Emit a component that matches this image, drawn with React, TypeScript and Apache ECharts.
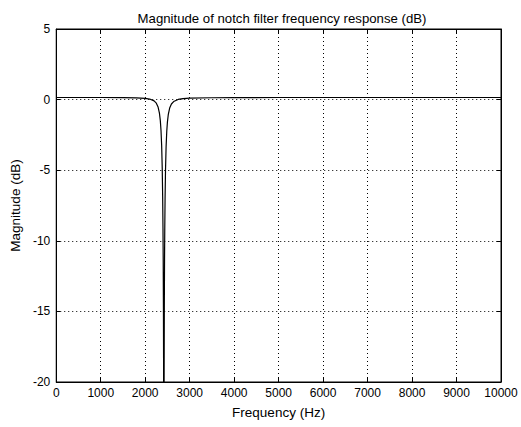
import React, { useEffect, useRef } from "react";
import * as echarts from "echarts";

const TITLE = "Magnitude of notch filter frequency response (dB)";
const X_NAME = "Frequency (Hz)";
const Y_NAME = "Magnitude (dB)";

const xTicks = [0, 1000, 2000, 3000, 4000, 5000, 6000, 7000, 8000, 9000, 10000];
const yTicks = [-20, -15, -10, -5, 0, 5];

// Frequency samples (Hz)
const freqHz = [
  0, 500, 1000, 1500, 1800, 2000, 2100, 2200, 2250, 2290, 2320, 2340, 2355, 2370,
  2383, 2393, 2400, 2405, 2410, 2414, 2417, 2420, 2423, 2426, 2430, 2435, 2440,
  2447, 2457, 2470, 2485, 2500, 2520, 2550, 2590, 2640, 2740, 2850, 3000, 3500,
  4000, 5000, 6000, 7000, 8000, 9000, 10000,
];
// Magnitude (dB) at those frequencies
const magDb = [
  0.15, 0.15, 0.15, 0.14, 0.12, 0.09, 0.04, -0.09, -0.25, -0.53, -0.96, -1.49, -2.15, -3.24,
  -4.87, -6.93, -9.14, -11.4, -14.8, -19.2, -25.2, -40, -25.2, -19.2, -14.8, -11.3, -9.2,
  -7.0, -4.96, -3.34, -2.24, -1.58, -1.04, -0.6, -0.31, -0.14, 0.01, 0.07, 0.1, 0.13,
  0.14, 0.15, 0.15, 0.15, 0.15, 0.15, 0.15,
];

const FONT = "Liberation Sans, Arial, sans-serif";

export default function App() {
  const ref = useRef<HTMLDivElement>(null);
  useEffect(() => {
    if (!ref.current) return;
    const chart = echarts.init(ref.current, null, { renderer: "svg" });
    const data = freqHz.map((f, i) => [f, magDb[i]]);
    const grid = { left: 55, right: 20, top: 29, bottom: 45 };
    const lbl = { color: "#000", fontSize: 12, fontFamily: FONT };
    const nameLbl = { color: "#000", fontSize: 13.5, fontFamily: FONT };
    chart.setOption({
      animation: false,
      backgroundColor: "#fff",
      title: {
        text: TITLE,
        left: 277,
        textAlign: "center",
        top: 7,
        textStyle: { color: "#000", fontSize: 13.2, fontWeight: "normal", fontFamily: FONT },
      },
      grid: { ...grid, show: true, borderColor: "#000", borderWidth: 1, backgroundColor: "#fff" },
      xAxis: [
        {
          type: "value",
          min: xTicks[0],
          max: xTicks[xTicks.length - 1],
          interval: 1000,
          position: "bottom",
          name: X_NAME,
          nameLocation: "middle",
          nameGap: 23,
          nameTextStyle: nameLbl,
          axisLine: { show: true, onZero: false, lineStyle: { color: "#000", width: 1 } },
          axisTick: { show: true, inside: true, length: 4, lineStyle: { color: "#000" } },
          axisLabel: { ...lbl, margin: 5, formatter: (v: number) => String(v) },
          splitLine: { show: true, lineStyle: { color: "#000", type: [1, 3], width: 1 } },
        },
        {
          type: "value",
          min: xTicks[0],
          max: xTicks[xTicks.length - 1],
          interval: 1000,
          position: "top",
          axisLine: { show: true, onZero: false, lineStyle: { color: "#000", width: 1 } },
          axisTick: { show: true, inside: true, length: 4, lineStyle: { color: "#000" } },
          axisLabel: { show: false },
          splitLine: { show: false },
        },
      ],
      yAxis: [
        {
          type: "value",
          min: yTicks[0],
          max: yTicks[yTicks.length - 1],
          interval: 5,
          position: "left",
          name: Y_NAME,
          nameLocation: "middle",
          nameGap: 28,
          nameTextStyle: nameLbl,
          axisLine: { show: true, onZero: false, lineStyle: { color: "#000", width: 1 } },
          axisTick: { show: true, inside: true, length: 4, lineStyle: { color: "#000" } },
          axisLabel: { ...lbl, margin: 6 },
          splitLine: { show: true, lineStyle: { color: "#000", type: [1, 3], width: 1 } },
        },
        {
          type: "value",
          min: yTicks[0],
          max: yTicks[yTicks.length - 1],
          interval: 5,
          position: "right",
          axisLine: { show: true, onZero: false, lineStyle: { color: "#000", width: 1 } },
          axisTick: { show: true, inside: true, length: 4, lineStyle: { color: "#000" } },
          axisLabel: { show: false },
          splitLine: { show: false },
        },
      ],
      series: [
        {
          type: "line",
          data,
          xAxisIndex: 0,
          yAxisIndex: 0,
          showSymbol: false,
          symbol: "none",
          clip: true,
          lineStyle: { color: "#000", width: 1.2 },
        },
      ],
    });
    return () => chart.dispose();
  }, []);
  return (
    <div
      ref={ref}
      style={{ position: "fixed", left: 0, top: 0, width: 521, height: 427, background: "#fff" }}
    />
  );
}
